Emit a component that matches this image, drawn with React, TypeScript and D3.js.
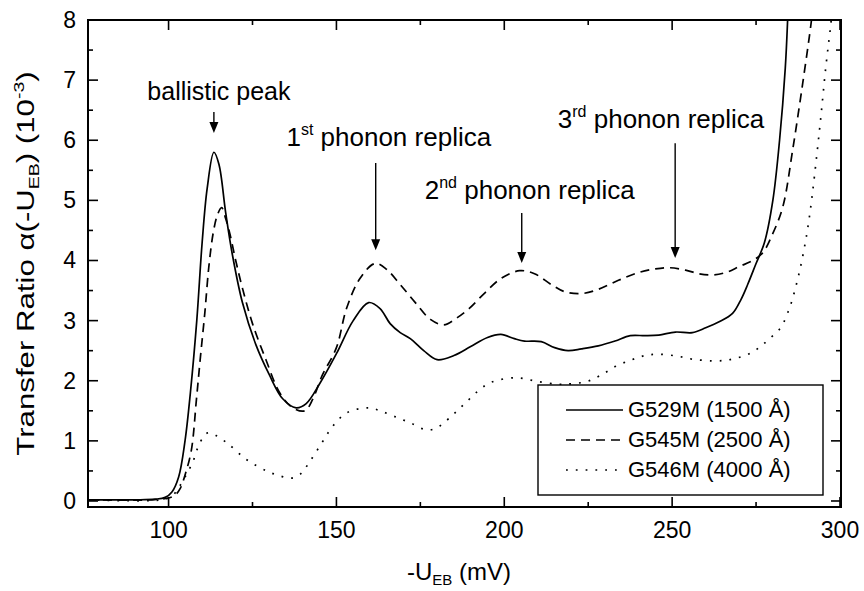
import React from "react";
import * as d3 from "d3";

// -U_EB (mV) vs transfer ratio (10^-3)
const solidX = [76, 90, 96, 99, 101, 103, 104.9, 106.5, 108.4, 110, 111.5, 113.5, 115, 117, 119, 122, 126, 130, 134, 138, 141, 145, 150, 155, 159.6, 163, 166, 169, 172, 176, 180, 185, 190, 195, 199, 203, 206, 211, 215, 219, 223, 228, 233, 237.5, 242, 246, 251, 256, 260, 264, 268, 270.5, 272.5, 275, 277.5, 280, 282, 283.7, 284.4, 285];
const solidY = [0.02, 0.02, 0.03, 0.06, 0.15, 0.4, 1.0, 1.8, 3.0, 4.3, 5.2, 5.8, 5.6, 4.8, 4.1, 3.3, 2.6, 2.1, 1.7, 1.55, 1.62, 1.95, 2.45, 3.0, 3.3, 3.2, 2.95, 2.8, 2.7, 2.5, 2.35, 2.42, 2.57, 2.72, 2.77, 2.7, 2.66, 2.65, 2.55, 2.5, 2.53, 2.58, 2.66, 2.75, 2.75, 2.76, 2.81, 2.8, 2.88, 2.98, 3.12, 3.35, 3.6, 3.95, 4.3, 5.0, 6.0, 7.2, 8.0, 9.0];

const dashX = [76, 95, 100, 102, 103.4, 105, 106.8, 108.3, 109.5, 110.8, 112, 113.3, 114.5, 115.8, 117, 118.2, 120, 122.1, 125, 129, 133.1, 137, 140.6, 143, 145.7, 150, 153, 157, 161.5, 165, 169, 173.5, 178, 182, 186, 189.5, 194, 199, 204.6, 209, 214, 218, 223, 228, 234, 240, 245, 249.2, 254, 258, 262, 266, 270, 274, 277, 280, 283, 285.9, 288.9, 291.4, 292.5];
const dashY = [0.02, 0.02, 0.05, 0.1, 0.2, 0.45, 0.85, 1.69, 2.4, 3.13, 3.9, 4.46, 4.75, 4.88, 4.7, 4.46, 4.0, 3.52, 2.95, 2.35, 1.8, 1.55, 1.5, 1.7, 2.08, 2.55, 3.2, 3.7, 3.95, 3.85, 3.6, 3.3, 3.02, 2.93, 3.05, 3.2, 3.45, 3.7, 3.83, 3.78, 3.6, 3.48, 3.45, 3.52, 3.67, 3.8, 3.86, 3.88, 3.84, 3.78, 3.76, 3.8, 3.9, 4.0, 4.13, 4.45, 4.9, 5.84, 6.95, 7.95, 8.5];

const dotX = [76, 98, 101, 103, 105.4, 107.3, 108.8, 110.3, 111.5, 113, 117.3, 123.2, 129.2, 133, 136.5, 139.3, 142, 145.7, 149, 153.2, 159.6, 163, 167.1, 172, 177, 180, 182, 185, 188.4, 192, 195.9, 203.4, 209.8, 216.2, 220, 224.8, 229, 233.2, 238, 242, 246, 251.4, 256, 262, 266, 269.5, 273, 275.9, 279, 282.3, 284.9, 287, 289, 290.9, 293.8, 295.8, 297.3, 298];
const dotY = [0.02, 0.02, 0.08, 0.22, 0.45, 0.66, 0.9, 1.06, 1.13, 1.12, 0.97, 0.69, 0.5, 0.42, 0.38, 0.45, 0.65, 0.97, 1.25, 1.47, 1.55, 1.5, 1.41, 1.3, 1.18, 1.22, 1.3, 1.45, 1.63, 1.82, 1.97, 2.05, 1.99, 1.94, 1.95, 1.99, 2.1, 2.24, 2.35, 2.42, 2.44, 2.41, 2.36, 2.33, 2.34, 2.38, 2.45, 2.55, 2.7, 2.88, 3.2, 3.6, 4.1, 4.73, 6.12, 7.23, 7.95, 8.4];

const seriesNames = ["G529M (1500 Å)", "G545M (2500 Å)", "G546M (4000 Å)"];
const seriesDash = ["none", "9 6", "1.8 8"];

const xTicks = [100, 150, 200, 250, 300];
const xMinor = [125, 175, 225, 275];
const yTicks = [0, 1, 2, 3, 4, 5, 6, 7, 8];
const yMinor = [0.5, 1.5, 2.5, 3.5, 4.5, 5.5, 6.5, 7.5];

// annotations, in data units: text centre / baseline, arrow x, arrow top / tip
const notes = [
  { base: "", sup: "", rest: "ballistic peak", size: 25, tx: 115.0, ty: 6.67, ax: 113.5, a0: 6.47, a1: 6.12 },
  { base: "1", sup: "st", rest: " phonon replica", size: 26, tx: 165.6, ty: 5.9, ax: 161.7, a0: 5.62, a1: 4.17 },
  { base: "2", sup: "nd", rest: " phonon replica", size: 26, tx: 207.6, ty: 5.02, ax: 205.2, a0: 4.79, a1: 3.96 },
  { base: "3", sup: "rd", rest: " phonon replica", size: 26, tx: 246.7, ty: 6.2, ax: 250.9, a0: 5.95, a1: 4.04 },
];

const W = 864;
const H = 591;
const M = { left: 88, right: 23, top: 20, bottom: 84 };
const FONT = "'Liberation Sans', Arial, sans-serif";

export default function App() {
  const x = d3.scaleLinear().domain([76, 300.3]).range([M.left, W - M.right]);
  const y = d3.scaleLinear().domain([-0.1, 8]).range([H - M.bottom, M.top]);
  const x0 = M.left, x1 = W - M.right, y0 = H - M.bottom, y1 = M.top;

  const line = d3
    .line<[number, number]>()
    .x((d) => x(d[0]))
    .y((d) => y(d[1]))
    .curve(d3.curveCatmullRom.alpha(0.5));

  const series = [
    d3.zip(solidX, solidY) as [number, number][],
    d3.zip(dashX, dashY) as [number, number][],
    d3.zip(dotX, dotY) as [number, number][],
  ];

  const lg = { x: 538, y: 385, w: 285, h: 110 };

  return (
    <svg width={W} height={H} style={{ position: "absolute", left: 0, top: 0, background: "#fff" }} fontFamily={FONT}>
      <defs>
        <clipPath id="plot">
          <rect x={x0} y={y1} width={x1 - x0} height={y0 - y1} />
        </clipPath>
      </defs>

      {/* data */}
      <g clipPath="url(#plot)" fill="none" stroke="#000" strokeWidth={1.7}>
        {series.map((s, i) => (
          <path key={i} d={line(s) || ""} strokeDasharray={seriesDash[i]} />
        ))}
      </g>

      {/* ticks, all pointing inward */}
      <g stroke="#000" strokeWidth={1.6}>
        {xTicks.map((t) => (
          <g key={"x" + t}>
            <line x1={x(t)} x2={x(t)} y1={y0} y2={y0 - 10} />
            <line x1={x(t)} x2={x(t)} y1={y1} y2={y1 + 10} />
          </g>
        ))}
        {xMinor.map((t) => (
          <g key={"xm" + t}>
            <line x1={x(t)} x2={x(t)} y1={y0} y2={y0 - 5} />
            <line x1={x(t)} x2={x(t)} y1={y1} y2={y1 + 5} />
          </g>
        ))}
        {yTicks.map((t) => (
          <g key={"y" + t}>
            <line x1={x0} x2={x0 + 10} y1={y(t)} y2={y(t)} />
            <line x1={x1} x2={x1 - 10} y1={y(t)} y2={y(t)} />
          </g>
        ))}
        {yMinor.map((t) => (
          <g key={"ym" + t}>
            <line x1={x0} x2={x0 + 5} y1={y(t)} y2={y(t)} />
            <line x1={x1} x2={x1 - 5} y1={y(t)} y2={y(t)} />
          </g>
        ))}
      </g>

      {/* frame */}
      <rect x={x0} y={y1} width={x1 - x0} height={y0 - y1} fill="none" stroke="#000" strokeWidth={2} />

      {/* tick labels */}
      <g fontSize={23} fill="#000">
        {xTicks.map((t) => (
          <text key={t} x={x(t)} y={y0 + 31} textAnchor="middle">{t}</text>
        ))}
        {yTicks.map((t) => (
          <text key={t} x={x0 - 12} y={y(t) + 8} textAnchor="end">{t}</text>
        ))}
      </g>

      {/* axis titles */}
      <text x={407} y={580} fontSize={24}>
        -U<tspan fontSize={15} dy={5}>EB</tspan><tspan dy={-5}> (mV)</tspan>
      </text>
      <text transform={`translate(34 ${(y0 + y1) / 2}) rotate(-90) scale(1.3 1)`} fontSize={24} textAnchor="middle">
        Transfer Ratio  α(-U<tspan fontSize={15} dy={5}>EB</tspan><tspan dy={-5}>) (10</tspan>
        <tspan fontSize={15} dy={-10}>-3</tspan><tspan dy={10}>)</tspan>
      </text>

      {/* annotations */}
      {notes.map((n, i) => (
        <g key={i}>
          <text x={x(n.tx)} y={y(n.ty)} fontSize={n.size} textAnchor="middle">
            {n.base}
            {n.sup && <tspan fontSize={16} dy={-11}>{n.sup}</tspan>}
            {n.sup ? <tspan dy={11}>{n.rest}</tspan> : n.rest}
          </text>
          <line x1={x(n.ax)} x2={x(n.ax)} y1={y(n.a0)} y2={y(n.a1) - 9} stroke="#000" strokeWidth={1.4} />
          <path
            d={`M${x(n.ax) - 4.5},${y(n.a1) - 11} L${x(n.ax) + 4.5},${y(n.a1) - 11} L${x(n.ax)},${y(n.a1)} Z`}
            fill="#000"
          />
        </g>
      ))}

      {/* legend */}
      <rect x={lg.x} y={lg.y} width={lg.w} height={lg.h} fill="#fff" stroke="#000" strokeWidth={1.4} />
      {seriesNames.map((name, i) => (
        <g key={name}>
          <line
            x1={lg.x + 28}
            x2={lg.x + 85}
            y1={lg.y + 25 + i * 30}
            y2={lg.y + 25 + i * 30}
            stroke="#000"
            strokeWidth={1.7}
            strokeDasharray={seriesDash[i]}
          />
          <text x={lg.x + 90} y={lg.y + 32 + i * 30} fontSize={22}>{name}</text>
        </g>
      ))}
    </svg>
  );
}
